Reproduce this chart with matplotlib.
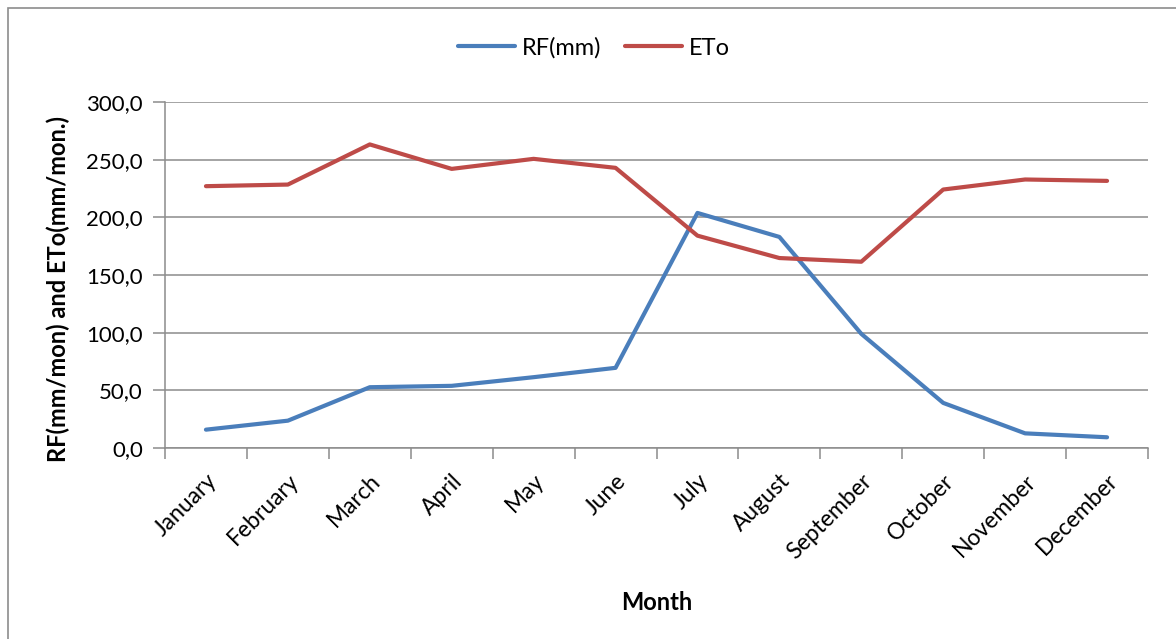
import matplotlib.pyplot as plt
from matplotlib.patches import Rectangle
from matplotlib.ticker import FixedLocator, FuncFormatter

months = ['January', 'February', 'March', 'April', 'May', 'June', 'July',
          'August', 'September', 'October', 'November', 'December']
rf = [15.9, 23.7, 52.7, 53.9, 61.4, 69.5, 203.8, 183.0, 99.0, 39.1, 12.7, 9.3]
eto = [227.0, 228.4, 263.2, 242.0, 250.7, 242.9, 184.1, 164.7, 161.5, 224.1, 232.8, 231.6]

plt.rcParams['font.family'] = ['Lato', 'DejaVu Sans']
gridColour = '#8c8c8c'

fig = plt.figure(figsize=(11.76, 6.39), dpi=100)
ax = fig.add_axes([0.1403, 0.2989, 0.8359, 0.5415])

# outer chart frame
fig.patches.append(Rectangle((0.007, -0.05), 1.1, 1.037, transform=fig.transFigure,
                             fill=False, edgecolor='#8c8c8c', linewidth=1.2))

x = list(range(len(months)))
ax.plot(x, rf, color='#4A7EBB', linewidth=3.0, label='RF(mm)', solid_capstyle='round')
ax.plot(x, eto, color='#BE4B48', linewidth=3.0, label='ETo', solid_capstyle='round')

ax.set_xlim(-0.5, 11.5)
ax.set_ylim(0, 300)
ax.set_yticks(range(0, 301, 50))
ax.yaxis.set_major_formatter(FuncFormatter(lambda v, p: f'{v:.1f}'.replace('.', ',')))
ax.grid(axis='y', color=gridColour, linewidth=1.1)
ax.set_axisbelow(True)

# category ticks sit between the months, labels at the centres
ax.set_xticks(x)
ax.set_xticklabels(months, rotation=45, ha='right', rotation_mode='anchor', fontsize=16.5)
ax.xaxis.set_minor_locator(FixedLocator([i - 0.5 for i in range(13)]))
ax.tick_params(axis='x', which='major', length=0, pad=16)
ax.tick_params(axis='x', which='minor', length=8, color=gridColour, width=1.1)
ax.tick_params(axis='y', length=9, color=gridColour, width=1.1, labelsize=16, pad=7)

for side in ['top', 'right']:
    ax.spines[side].set_visible(False)
for side in ['left', 'bottom']:
    ax.spines[side].set_color(gridColour)
    ax.spines[side].set_linewidth(1.1)

ax.set_xlabel('Month', fontsize=17, fontweight='bold', labelpad=20)
ax.set_ylabel('RF(mm/mon) and ETo(mm/mon.)', fontsize=17, fontweight='bold')
ax.yaxis.set_label_coords(-0.097, 0.46)

ax.legend(loc='center', bbox_to_anchor=(0.505, 0.925), bbox_transform=fig.transFigure,
          ncol=2, frameon=False, fontsize=17, handlelength=2.4, columnspacing=1.0,
          handletextpad=0.3)

fig.savefig('out.png', dpi=100)
